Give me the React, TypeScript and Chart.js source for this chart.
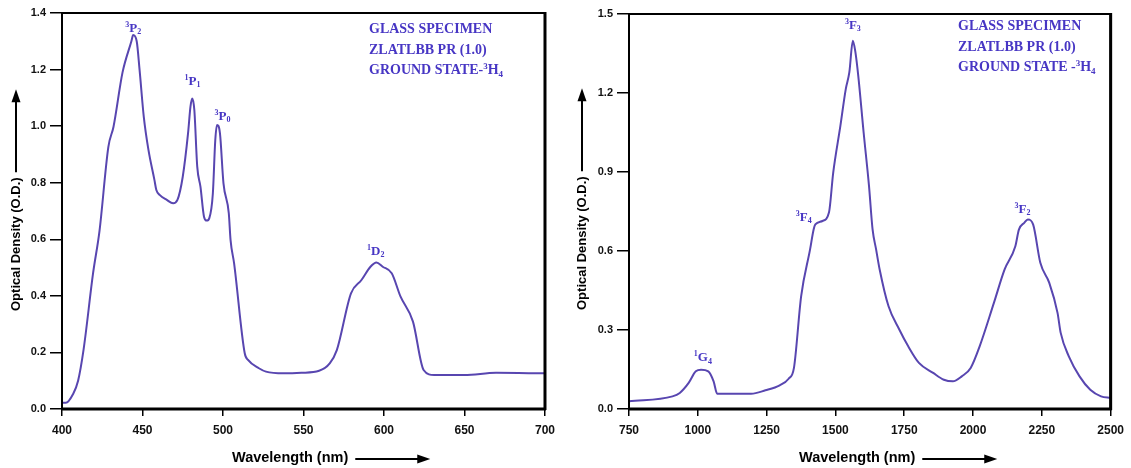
import React, { useEffect, useRef } from "react";
import { Chart, registerables } from "chart.js";

Chart.register(...registerables);

// ---------- Data: visible region (left panel) ----------
const visWavelength = [
  400, 402.4, 406.8, 410, 413.4, 419.3, 423.3, 428.8, 432, 437.6, 443.1, 444.2, 446.4, 448.2,
  450.8, 453.7, 457.4, 458.6, 460.8, 465.1, 469, 471.7, 475, 478.3, 479.8, 480.9, 482.2, 484,
  486, 488.2, 489.9, 491.5, 493.7, 495.2, 496.3, 498.1, 500.3, 503.6, 504.7, 506.9, 513.5,
  515.7, 522.3, 526.7, 537.7, 548.7, 559.7, 566.3, 570.7, 579.5, 586, 591.6, 595.3, 599.2,
  604.8, 610.3, 618, 624.6, 631.2, 650, 669.6, 700,
];
const visOD = [
  0.022, 0.022, 0.052, 0.1, 0.21, 0.48, 0.63, 0.927, 0.998, 1.19, 1.3, 1.322, 1.3, 1.198,
  1.033, 0.916, 0.81, 0.774, 0.756, 0.739, 0.727, 0.739, 0.821, 0.975, 1.069, 1.098, 1.057, 0.857,
  0.786, 0.68, 0.666, 0.675, 0.762, 0.95, 1.004, 0.975, 0.798, 0.692, 0.597, 0.515, 0.197,
  0.173, 0.144, 0.132, 0.126, 0.128, 0.135, 0.161, 0.208, 0.409, 0.456, 0.503, 0.518, 0.503,
  0.48, 0.397, 0.309, 0.138, 0.12, 0.12, 0.128, 0.126,
];

// ---------- Data: NIR region (right panel) ----------
const nirWavelength = [
  750, 908, 934.5, 966.8, 992.8, 1012, 1038, 1057.4, 1070.4, 1193.6, 1245.6, 1297.5, 1330,
  1349.3, 1375.4, 1407.9, 1420.8, 1427, 1453, 1476.5, 1492, 1518, 1537.6, 1550.5, 1563.3,
  1572.6, 1583, 1602.5, 1622, 1635, 1647.8, 1660.7, 1693, 1732, 1764.5, 1803.4, 1855, 1894,
  1926.8, 1959, 1991.4, 2024, 2075.8, 2114.8, 2153.7, 2166.6, 2186, 2199, 2218.5, 2244.5,
  2277, 2307, 2318.5, 2348, 2387, 2426, 2465, 2500,
];
const nirOD = [
  0.029, 0.048, 0.061, 0.099, 0.143, 0.149, 0.143, 0.105, 0.058, 0.058, 0.071, 0.09, 0.115,
  0.156, 0.428, 0.606, 0.682, 0.701, 0.714, 0.746, 0.898, 1.075, 1.215, 1.278, 1.398,
  1.355, 1.265, 1.05, 0.847, 0.682, 0.606, 0.53, 0.39, 0.302, 0.238, 0.175, 0.137, 0.111,
  0.105, 0.124, 0.156, 0.238, 0.403, 0.53, 0.618, 0.681, 0.707, 0.72, 0.7, 0.555,
  0.479, 0.365, 0.289, 0.2, 0.124, 0.073, 0.048, 0.042,
];

// ---------- Ticks ----------
const visXTicks = [400, 450, 500, 550, 600, 650, 700];
const visYTicks = [0, 0.2, 0.4, 0.6, 0.8, 1.0, 1.2, 1.4];
const nirXTicks = [750, 1000, 1250, 1500, 1750, 2000, 2250, 2500];
const nirYTicks = [0, 0.3, 0.6, 0.9, 1.2, 1.5];

// ---------- Peak labels (term symbols: pre-superscript, letter, subscript) ----------
const visPeakSup = ["3", "1", "3", "1"];
const visPeakLetter = ["P", "P", "P", "D"];
const visPeakSub = ["2", "1", "0", "2"];
const visPeakX = [444.2, 481, 499.7, 594.9];
const visPeakY = [1.352, 1.164, 1.04, 0.563];

const nirPeakSup = ["1", "3", "3", "3"];
const nirPeakLetter = ["G", "F", "F", "F"];
const nirPeakSub = ["4", "4", "3", "2"];
const nirPeakX = [1018.5, 1385, 1563.4, 2179.6];
const nirPeakY = [0.2, 0.733, 1.462, 0.765];

const visLegendLines = ["GLASS SPECIMEN", "ZLATLBB PR (1.0)", "GROUND STATE-"];
const nirLegendLines = ["GLASS SPECIMEN", "ZLATLBB PR (1.0)", "GROUND STATE -"];

const xTitle = "Wavelength (nm)";
const yTitle = "Optical Density (O.D.)";

// ---------- Styling ----------
const LINE_COLOR = "#5846b0";
const TEXT_COLOR = "#4736c4";
const SANS = "'Liberation Sans', Arial, sans-serif";
const SERIF = "'Liberation Serif', 'Times New Roman', serif";

type Seg = { t: string; k?: "sup" | "sub" };

function drawRich(
  ctx: CanvasRenderingContext2D,
  segs: Seg[],
  x: number,
  baseline: number,
  size: number,
  align: "left" | "center",
  color: string
) {
  const small = Math.round(size * 0.62);
  const fontFor = (k?: string) => `bold ${k ? small : size}px ${SERIF}`;
  let total = 0;
  for (const s of segs) {
    ctx.font = fontFor(s.k);
    total += ctx.measureText(s.t).width;
  }
  let cx = align === "center" ? x - total / 2 : x;
  ctx.textAlign = "left";
  ctx.textBaseline = "alphabetic";
  ctx.fillStyle = color;
  for (const s of segs) {
    ctx.font = fontFor(s.k);
    const dy = s.k === "sup" ? -size * 0.38 : s.k === "sub" ? size * 0.18 : 0;
    ctx.fillText(s.t, cx, baseline + dy);
    cx += ctx.measureText(s.t).width;
  }
}

type PanelProps = {
  left: number;
  width: number;
  xs: number[];
  ys: number[];
  xTicks: number[];
  yTicks: number[];
  yAxisWidth: number;
  padRight: number;
  padTop: number;
  peakSup: string[];
  peakLetter: string[];
  peakSub: string[];
  peakX: number[];
  peakY: number[];
  legendLines: string[];
  legendX: number;
  legendY: number[];
  yTitleX: number;
  yTitleStart: number;
};

function Panel(p: PanelProps) {
  const ref = useRef<HTMLCanvasElement>(null);

  useEffect(() => {
    const canvas = ref.current;
    if (!canvas) return;

    const decor = {
      id: "decor",
      afterDraw(chart: any) {
        const { ctx, chartArea: a, scales } = chart;
        ctx.save();
        // frame
        ctx.strokeStyle = "#000";
        ctx.lineWidth = 2;
        ctx.strokeRect(a.left, a.top, a.right - a.left, a.bottom - a.top);
        ctx.lineWidth = 3;
        ctx.beginPath();
        ctx.moveTo(a.left - 1, a.bottom);
        ctx.lineTo(a.right + 1, a.bottom);
        ctx.stroke();
        ctx.beginPath();
        ctx.moveTo(a.right, a.top - 1);
        ctx.lineTo(a.right, a.bottom + 1);
        ctx.stroke();

        // y title with arrow
        ctx.fillStyle = "#000";
        ctx.font = `bold 13px ${SANS}`;
        const yw = ctx.measureText(yTitle).width;
        ctx.save();
        ctx.translate(p.yTitleX, p.yTitleStart);
        ctx.rotate(-Math.PI / 2);
        ctx.textAlign = "left";
        ctx.textBaseline = "middle";
        ctx.fillText(yTitle, 0, 0);
        ctx.restore();
        const yEnd = p.yTitleStart - yw;
        const tipY = yEnd - 88;
        ctx.lineWidth = 2;
        ctx.beginPath();
        ctx.moveTo(p.yTitleX, yEnd - 5);
        ctx.lineTo(p.yTitleX, tipY + 10);
        ctx.stroke();
        ctx.beginPath();
        ctx.moveTo(p.yTitleX, tipY);
        ctx.lineTo(p.yTitleX - 4.5, tipY + 13);
        ctx.lineTo(p.yTitleX + 4.5, tipY + 13);
        ctx.closePath();
        ctx.fill();

        // x title with arrow
        ctx.font = `bold 14.5px ${SANS}`;
        ctx.textAlign = "left";
        ctx.textBaseline = "middle";
        const tx = a.left + 170;
        const ty = 458;
        ctx.fillText(xTitle, tx, ty);
        const xw = ctx.measureText(xTitle).width;
        const ax0 = tx + xw + 7;
        const ax1 = tx + xw + 82;
        ctx.lineWidth = 2;
        ctx.beginPath();
        ctx.moveTo(ax0, ty + 1);
        ctx.lineTo(ax1 - 10, ty + 1);
        ctx.stroke();
        ctx.beginPath();
        ctx.moveTo(ax1, ty + 1);
        ctx.lineTo(ax1 - 13, ty + 1 - 4.5);
        ctx.lineTo(ax1 - 13, ty + 1 + 4.5);
        ctx.closePath();
        ctx.fill();

        // peak labels
        for (let i = 0; i < p.peakX.length; i++) {
          const px = scales.x.getPixelForValue(p.peakX[i]);
          const py = scales.y.getPixelForValue(p.peakY[i]);
          drawRich(
            ctx,
            [
              { t: p.peakSup[i], k: "sup" },
              { t: p.peakLetter[i] },
              { t: p.peakSub[i], k: "sub" },
            ],
            px,
            py + 5,
            13,
            "center",
            TEXT_COLOR
          );
        }

        // legend text block
        for (let i = 0; i < p.legendLines.length; i++) {
          const segs: Seg[] = [{ t: p.legendLines[i] }];
          if (i === p.legendLines.length - 1) {
            segs.push({ t: "3", k: "sup" }, { t: "H" }, { t: "4", k: "sub" });
          }
          drawRich(ctx, segs, p.legendX, p.legendY[i] + 5, 14, "left", TEXT_COLOR);
        }
        ctx.restore();
      },
    };

    const chart = new Chart(canvas, {
      type: "line",
      data: {
        datasets: [
          {
            data: p.xs.map((x, i) => ({ x, y: p.ys[i] })),
            borderColor: LINE_COLOR,
            borderWidth: 2,
            pointRadius: 0,
            fill: false,
            cubicInterpolationMode: "monotone",
          },
        ],
      },
      options: {
        responsive: false,
        animation: false,
        devicePixelRatio: 1,
        layout: { padding: { left: 0, right: p.padRight, top: p.padTop, bottom: 0 } },
        plugins: { legend: { display: false }, tooltip: { enabled: false } },
        scales: {
          x: {
            type: "linear",
            min: p.xTicks[0],
            max: p.xTicks[p.xTicks.length - 1],
            afterBuildTicks: (s: any) => {
              s.ticks = p.xTicks.map((v) => ({ value: v }));
            },
            afterFit: (s: any) => {
              s.height = 59;
            },
            border: { display: false },
            grid: {
              display: true,
              drawOnChartArea: false,
              drawTicks: true,
              tickLength: 7,
              color: "#000",
              lineWidth: 1.5,
            },
            ticks: {
              color: "#111",
              padding: 7,
              maxRotation: 0,
              autoSkip: false,
              font: { family: SANS, size: 12, weight: "bold" },
              callback: (v: any) => String(v),
            },
          },
          y: {
            type: "linear",
            min: 0,
            max: p.yTicks[p.yTicks.length - 1],
            afterBuildTicks: (s: any) => {
              s.ticks = p.yTicks.map((v) => ({ value: v }));
            },
            afterFit: (s: any) => {
              s.width = p.yAxisWidth;
            },
            border: { display: false },
            grid: {
              display: true,
              drawOnChartArea: false,
              drawTicks: true,
              tickLength: 12,
              color: "#000",
              lineWidth: 1.5,
            },
            ticks: {
              color: "#111",
              padding: 4,
              autoSkip: false,
              font: { family: SANS, size: 11, weight: "bold" },
              callback: (v: any) => Number(v).toFixed(1),
            },
          },
        },
      } as any,
      plugins: [decor],
    });
    return () => chart.destroy();
  }, []);

  return (
    <canvas
      ref={ref}
      width={p.width}
      height={468}
      style={{ position: "absolute", left: p.left, top: 0, width: p.width, height: 468, display: "block" }}
    />
  );
}

export default function App() {
  return (
    <div style={{ position: "absolute", left: 0, top: 0, width: 1131, height: 468, background: "#fff", overflow: "hidden" }}>
      <Panel
        left={0}
        width={562}
        xs={visWavelength}
        ys={visOD}
        xTicks={visXTicks}
        yTicks={visYTicks}
        yAxisWidth={62}
        padRight={13}
        padTop={13}
        peakSup={visPeakSup}
        peakLetter={visPeakLetter}
        peakSub={visPeakSub}
        peakX={visPeakX}
        peakY={visPeakY}
        legendLines={visLegendLines}
        legendX={369}
        legendY={[28, 48.5, 69]}
        yTitleX={16}
        yTitleStart={311}
      />
      <Panel
        left={566}
        width={565}
        xs={nirWavelength}
        ys={nirOD}
        xTicks={nirXTicks}
        yTicks={nirYTicks}
        yAxisWidth={63}
        padRight={15}
        padTop={14}
        peakSup={nirPeakSup}
        peakLetter={nirPeakLetter}
        peakSub={nirPeakSub}
        peakX={nirPeakX}
        peakY={nirPeakY}
        legendLines={nirLegendLines}
        legendX={392}
        legendY={[25, 45.5, 66]}
        yTitleX={16}
        yTitleStart={310}
      />
    </div>
  );
}
